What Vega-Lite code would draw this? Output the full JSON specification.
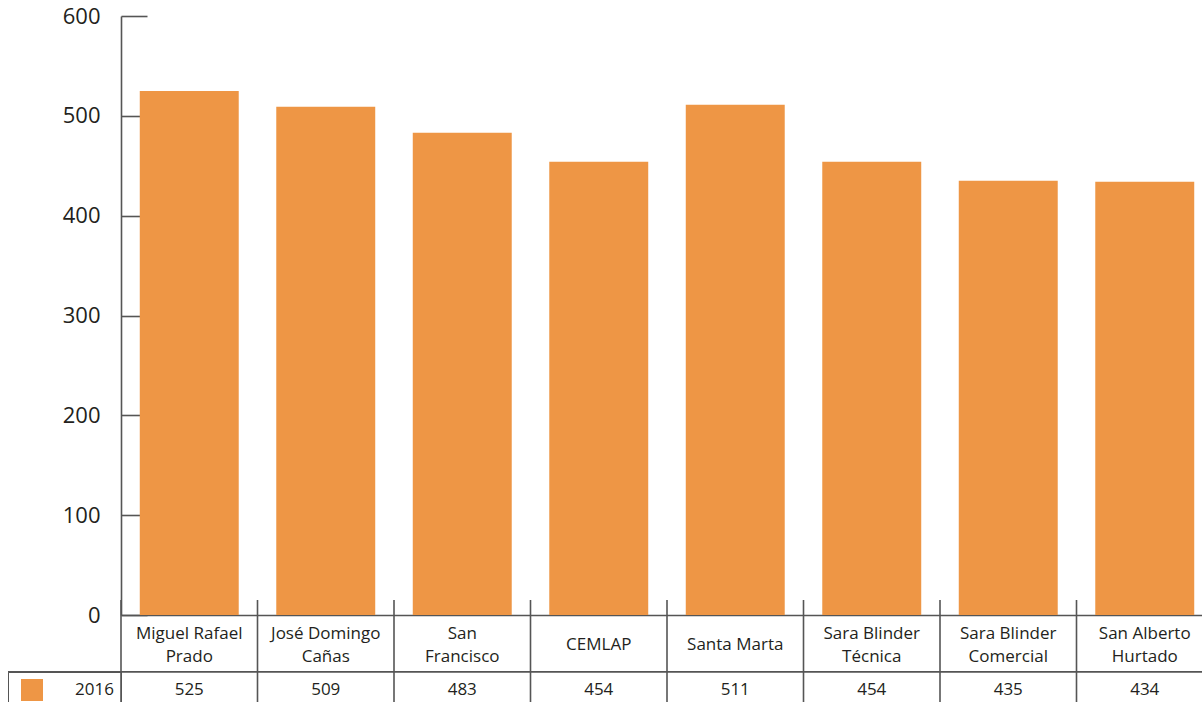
{
  "$schema": "https://vega.github.io/schema/vega-lite/v6.json",
  "autosize": {"type": "none"},
  "width": 1194,
  "height": 599,
  "padding": {"left": 8, "top": 16, "right": 0, "bottom": 87},
  "background": "white",
  "config": {
    "view": {"stroke": null},
    "font": "Open Sans",
    "legend": {"strokeColor": "#555555"}
  },
  "datasets": {
    "main": [
      {"school": "Miguel Rafael Prado", "year": "2016", "value": 525},
      {"school": "José Domingo Cañas", "year": "2016", "value": 509},
      {"school": "San Francisco", "year": "2016", "value": 483},
      {"school": "CEMLAP", "year": "2016", "value": 454},
      {"school": "Santa Marta", "year": "2016", "value": 511},
      {"school": "Sara Blinder Técnica", "year": "2016", "value": 454},
      {"school": "Sara Blinder Comercial", "year": "2016", "value": 435},
      {"school": "San Alberto Hurtado", "year": "2016", "value": 434}
    ]
  },
  "data": {"name": "main"},
  "layer": [
    {
      "mark": {"type": "bar", "width": {"band": 0.725}},
      "encoding": {
        "x": {
          "field": "school", "type": "nominal", "sort": null,
          "scale": {"range": [113, 1205], "paddingInner": 0, "paddingOuter": 0},
          "axis": {
            "title": null, "ticks": false, "domain": true, "domainColor": "#555555", "domainWidth": 1.6,
            "labelAngle": 0, "labelAlign": "center", "labelBaseline": "middle",
            "labelPadding": {"condition": {"test": "length(datum.value) > 11", "value": 18}, "value": 29},
            "labelLineHeight": 23, "labelFontSize": 17, "labelColor": "#231f20", "labelFont": "Open Sans",
            "labelLimit": 300,
            "labelExpr": "length(datum.label) > 11 ? [slice(datum.label, 0, lastindexof(datum.label, ' ')), slice(datum.label, lastindexof(datum.label, ' ') + 1)] : datum.label"
          }
        },
        "y": {
          "field": "value", "type": "quantitative",
          "scale": {"domain": [0, 600], "nice": false, "zero": true},
          "axis": {
            "title": null, "grid": false, "offset": -113, "values": [0, 100, 200, 300, 400, 500, 600],
            "tickSize": -26, "tickColor": "#555555", "tickWidth": 1.6,
            "domainColor": "#555555", "domainWidth": 1.6,
            "labelPadding": 47, "labelFontSize": 22, "labelColor": "#231f20", "labelFont": "Open Sans"
          }
        },
        "color": {
          "field": "year", "type": "nominal",
          "scale": {"range": ["#EE9645"]},
          "legend": {
            "orient": "none", "legendX": 0, "legendY": 656, "title": null,
            "symbolType": "square", "symbolSize": 484, "symbolOffset": 6, "symbolStrokeWidth": 0,
            "symbolOpacity": 1,
            "labelOffset": 32, "padding": 7, "strokeColor": "#555555",
            "labelFontSize": 17, "labelFont": "Open Sans", "labelColor": "#231f20"
          }
        }
      }
    },
    {
      "mark": {"type": "rule", "color": "#555555", "strokeWidth": 1.6},
      "encoding": {
        "x": {"field": "school", "type": "nominal", "sort": null, "bandPosition": 0},
        "y": {"datum": 15, "type": "quantitative"},
        "y2": {"datum": -95}
      }
    },
    {
      "data": {"values": [{"row": "2016"}]},
      "mark": {"type": "rule", "color": "#555555", "strokeWidth": 1.6},
      "encoding": {
        "y": {"datum": -57, "type": "quantitative"}
      }
    },
    {
      "mark": {"type": "text", "fontSize": 17, "font": "Open Sans", "color": "#231f20", "baseline": "middle"},
      "encoding": {
        "x": {"field": "school", "type": "nominal", "sort": null},
        "y": {"datum": -75.5, "type": "quantitative"},
        "text": {"field": "value", "type": "quantitative"}
      }
    }
  ]
}
